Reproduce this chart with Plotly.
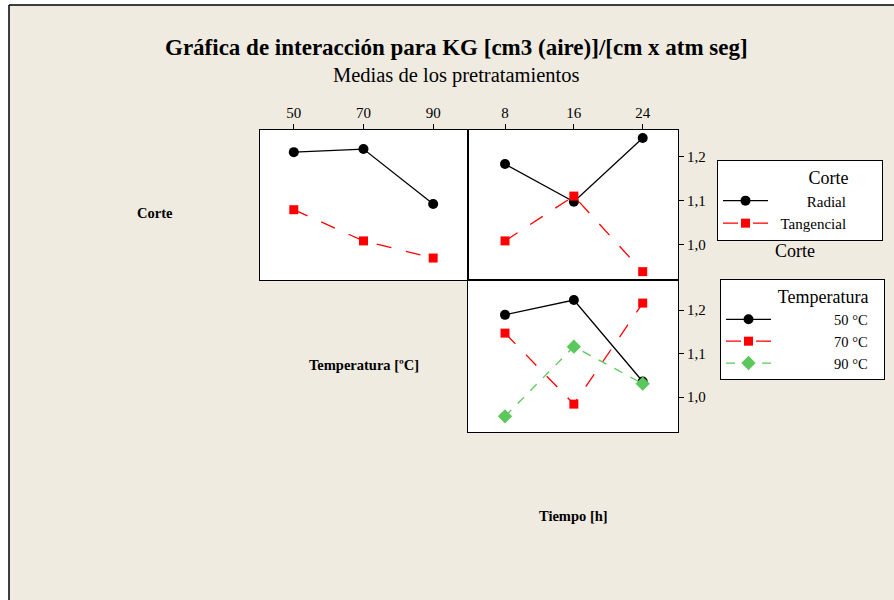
import plotly.graph_objects as go

# ---- data ----
temp_levels = [50, 70, 90]
time_levels = [8, 16, 24]
corte_temp_radial = [1.211, 1.218, 1.093]
corte_temp_tang = [1.080, 1.009, 0.970]
corte_time_radial = [1.184, 1.098, 1.243]
corte_time_tang = [1.009, 1.111, 0.939]
temp_time_50 = [1.189, 1.223, 1.036]
temp_time_70 = [1.147, 0.984, 1.216]
temp_time_90 = [0.956, 1.116, 1.031]
y_ticks = [1.0, 1.1, 1.2]

W, H = 894, 600
SERIF = "Liberation Serif, Times New Roman, serif"
BG = "#EFEBE1"
BLACK = "#000000"
RED = "#FF0000"
GREEN = "#5CC85C"

def px(x):
    return x / W

def py(y):
    return 1 - y / H

NB = "\u00a0"

fig = go.Figure()

radial_style = dict(mode="lines+markers", line=dict(color=BLACK, width=1.3),
                    marker=dict(symbol="circle", size=10, color=BLACK))
tang_style = dict(mode="lines+markers", line=dict(color=RED, width=1.3, dash="longdash"),
                  marker=dict(symbol="square", size=9, color=RED))
green_style = dict(mode="lines+markers", line=dict(color=GREEN, width=1.3, dash="dash"),
                   marker=dict(symbol="diamond", size=11, color=GREEN))

# top-left: Corte vs Temperatura
fig.add_trace(go.Scatter(x=temp_levels, y=corte_temp_radial, xaxis="x", yaxis="y",
                         showlegend=False, **radial_style))
fig.add_trace(go.Scatter(x=temp_levels, y=corte_temp_tang, xaxis="x", yaxis="y",
                         showlegend=False, **tang_style))
# top-right: Corte vs Tiempo
fig.add_trace(go.Scatter(x=time_levels, y=corte_time_radial, xaxis="x2", yaxis="y2",
                         name=NB * 9 + "Radial", legend="legend", **radial_style))
fig.add_trace(go.Scatter(x=time_levels, y=corte_time_tang, xaxis="x2", yaxis="y2",
                         name=NB * 2 + "Tangencial" + NB * 8, legend="legend", **tang_style))
# bottom-right: Temperatura vs Tiempo
fig.add_trace(go.Scatter(x=time_levels, y=temp_time_50, xaxis="x3", yaxis="y3",
                         name=NB * 16 + "50 °C" + NB * 3, legend="legend2", **radial_style))
fig.add_trace(go.Scatter(x=time_levels, y=temp_time_70, xaxis="x3", yaxis="y3",
                         name=NB * 16 + "70 °C", legend="legend2", **tang_style))
fig.add_trace(go.Scatter(x=time_levels, y=temp_time_90, xaxis="x3", yaxis="y3",
                         name=NB * 16 + "90 °C", legend="legend2", **green_style))

axis_common = dict(showline=True, mirror=True, linecolor=BLACK, linewidth=1,
                   showgrid=False, zeroline=False, ticks="outside", ticklen=5,
                   tickcolor=BLACK, tickwidth=1,
                   tickfont=dict(family=SERIF, size=15, color=BLACK))

xd_left = [px(260), px(468)]
xd_right = [px(468), px(678)]
yd_top = [py(280), py(130)]
yd_bot = [py(432), py(280)]
yr_top = [0.920, 1.2614]
yr_bot = [0.920, 1.269]

fig.update_layout(
    width=W, height=H,
    margin=dict(l=0, r=0, t=0, b=0),
    paper_bgcolor=BG, plot_bgcolor="white",
    separators=",.",
    xaxis=dict(domain=xd_left, range=[40.3, 100], side="top", anchor="y",
               tickvals=temp_levels, **axis_common),
    yaxis=dict(domain=yd_top, range=yr_top, anchor="x", showline=True, mirror=True,
               linecolor=BLACK, linewidth=1, showgrid=False, zeroline=False,
               showticklabels=False, ticks=""),
    xaxis2=dict(domain=xd_right, range=[3.7, 28.1], side="top", anchor="y2",
                tickvals=time_levels, **axis_common),
    yaxis2=dict(domain=yd_top, range=yr_top, anchor="x2", side="right",
                tickvals=y_ticks, tickformat=".1f", **axis_common),
    xaxis3=dict(domain=xd_right, range=[3.7, 28.1], anchor="y3", showline=True,
                mirror=True, linecolor=BLACK, linewidth=1, showgrid=False,
                zeroline=False, showticklabels=False, ticks=""),
    yaxis3=dict(domain=yd_bot, range=yr_bot, anchor="x3", side="right",
                tickvals=y_ticks, tickformat=".1f", **axis_common),
    legend=dict(x=px(717), y=py(160), xanchor="left", yanchor="top",
                bgcolor="white", bordercolor=BLACK, borderwidth=1,
                font=dict(family=SERIF, size=15, color=BLACK), itemwidth=45,
                title=dict(text="Corte" + NB * 7, side="top right",
                           font=dict(family=SERIF, size=18, color=BLACK))),
    legend2=dict(x=px(720), y=py(279), xanchor="left", yanchor="top",
                 bgcolor="white", bordercolor=BLACK, borderwidth=1,
                 font=dict(family=SERIF, size=14.5, color=BLACK), itemwidth=45,
                 title=dict(text="Temperatura" + NB * 3, side="top right",
                            font=dict(family=SERIF, size=18, color=BLACK))),
)

# white margin outside the window frame, then the frame lines
fig.add_shape(type="rect", xref="paper", yref="paper", x0=0, x1=1, y0=py(5), y1=1,
              line=dict(width=0), fillcolor="white", layer="above")
fig.add_shape(type="rect", xref="paper", yref="paper", x0=0, x1=px(9), y0=0, y1=1,
              line=dict(width=0), fillcolor="white", layer="above")
fig.add_shape(type="line", xref="paper", yref="paper", x0=px(9), x1=px(9),
              y0=0, y1=py(5), line=dict(color=BLACK, width=1.5))
fig.add_shape(type="line", xref="paper", yref="paper", x0=px(9), x1=1,
              y0=py(5), y1=py(5), line=dict(color=BLACK, width=1.5))

def label(text, x, y, size, bold=False):
    fig.add_annotation(text=("<b>%s</b>" % text) if bold else text,
                       x=px(x), y=py(y), xref="paper", yref="paper",
                       showarrow=False, xanchor="center", yanchor="middle",
                       font=dict(family=SERIF, size=size, color=BLACK))

label("Gráfica de interacción para KG [cm3 (aire)]/[cm x atm seg]", 457, 48, 23, bold=True)
label("Medias de los pretratamientos", 457, 75, 20.5)
label("Corte", 155, 213, 14.5, bold=True)
label("Temperatura [ºC]", 364, 365, 14.5, bold=True)
label("Tiempo [h]", 573, 516, 14.5, bold=True)
label("Corte", 795, 251, 18)

fig.write_html("out.html", config={"displayModeBar": False},
               post_script="document.body.style.margin='0px';"
                           "document.body.style.overflow='hidden';")
